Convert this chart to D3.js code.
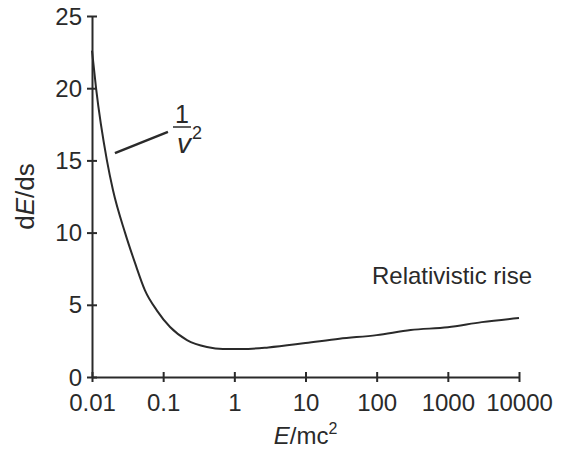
<!DOCTYPE html>
<html>
<head>
<meta charset="utf-8">
<script src="https://cdn.jsdelivr.net/npm/d3@7"></script>
<style>
    body { margin: 0; background: #fff; }
    text { font-family: "Liberation Sans", Arial, sans-serif; fill: #2a2a2a; }
</style>
</head>
<body>
<div id="chart"></div>
<script>
// energy loss curve
const energy = [0.01, 0.0114, 0.0162, 0.0197, 0.0291, 0.0402, 0.0555, 0.0818, 0.125,
    0.216, 0.412, 0.69, 1.3, 3, 10, 30, 100, 300, 1000, 3000, 10000];
const dEds = [22.6, 20, 15, 12.95, 10, 7.9, 6.0, 4.6, 3.46,
    2.56, 2.08, 1.94, 1.94, 2.05, 2.35, 2.65, 2.9, 3.25, 3.45, 3.8, 4.08];
const xTicks = [0.01, 0.1, 1, 10, 100, 1000, 10000];
const xTickLabels = ["0.01", "0.1", "1", "10", "100", "1000", "10000"];
const yTicks = [0, 5, 10, 15, 20, 25];

const width = 567, height = 459;
const ink = "#2a2a2a";

const svg = d3.select("#chart").append("svg")
    .attr("width", width)
    .attr("height", height);

const x = d3.scaleLog().domain([0.01, 10000]).range([92, 519]);
const y = d3.scaleLinear().domain([0, 25]).range([377, 16]);

// axes - ticks cross the axis line
const xAxis = svg.append("g")
    .attr("transform", "translate(0," + y(0) + ")")
    .call(d3.axisBottom(x)
        .tickValues(xTicks)
        .tickFormat((d, i) => xTickLabels[i])
        .tickSizeInner(5)
        .tickSizeOuter(0)
        .tickPadding(12));
xAxis.selectAll(".tick line").attr("y1", -5);

const yAxis = svg.append("g")
    .attr("transform", "translate(" + x(0.01) + ",0)")
    .call(d3.axisLeft(y)
        .tickValues(yTicks)
        .tickSizeInner(5)
        .tickSizeOuter(0)
        .tickPadding(5));
yAxis.selectAll(".tick line").attr("x1", 5);

svg.selectAll(".domain, .tick line")
    .attr("stroke", ink)
    .attr("stroke-width", 2);
svg.selectAll(".tick text")
    .attr("font-size", 24)
    .attr("font-family", "Liberation Sans, Arial, sans-serif")
    .attr("fill", ink);
yAxis.selectAll(".tick text").attr("dy", "0.34em");

// the curve
const pts = energy.map((e, i) => [e, dEds[i]]);
svg.append("path")
    .datum(pts)
    .attr("fill", "none")
    .attr("stroke", ink)
    .attr("stroke-width", 2)
    .attr("d", d3.line()
        .x(d => x(d[0]))
        .y(d => y(d[1]))
        .curve(d3.curveMonotoneX));

// axis titles
const xTitle = svg.append("text")
    .attr("x", x(10))
    .attr("y", 444)
    .attr("text-anchor", "middle")
    .attr("font-size", 24);
xTitle.append("tspan").attr("font-style", "italic").text("E");
xTitle.append("tspan").text("/mc");
xTitle.append("tspan").attr("font-size", 16).attr("dy", -10).text("2");

const yTitle = svg.append("text")
    .attr("transform", "translate(34," + y(12.5) + ") rotate(-90)")
    .attr("text-anchor", "middle")
    .attr("font-size", 26);
yTitle.append("tspan").text("d");
yTitle.append("tspan").attr("font-style", "italic").text("E");
yTitle.append("tspan").text("/ds");

// annotations
svg.append("text")
    .attr("x", 372)
    .attr("y", 284)
    .attr("font-size", 24)
    .text("Relativistic rise");

svg.append("line")
    .attr("x1", x(0.021)).attr("y1", y(15.5))
    .attr("x2", x(0.1167)).attr("y2", y(16.97))
    .attr("stroke", ink)
    .attr("stroke-width", 2.5);

const frac = svg.append("g").attr("transform", "translate(182,0)");
frac.append("text")
    .attr("x", 0).attr("y", 123)
    .attr("text-anchor", "middle")
    .attr("font-size", 25)
    .text("1");
frac.append("line")
    .attr("x1", -9).attr("x2", 9)
    .attr("y1", 127).attr("y2", 127)
    .attr("stroke", ink)
    .attr("stroke-width", 1.5);
const vText = frac.append("text")
    .attr("x", -5).attr("y", 153)
    .attr("font-size", 28);
vText.append("tspan").attr("font-style", "italic").text("v");
vText.append("tspan").attr("font-size", 18).attr("dy", -14).attr("dx", 1).text("2");
</script>
</body>
</html>
